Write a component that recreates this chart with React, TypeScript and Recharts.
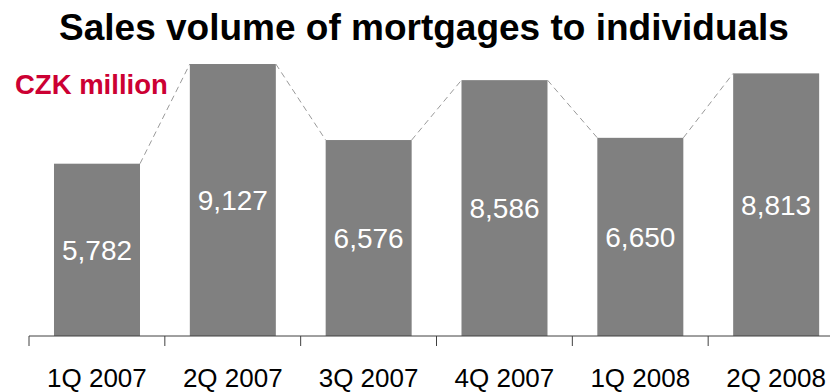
import { BarChart, Bar, XAxis, YAxis, LabelList } from 'recharts';

const quarters = ['1Q 2007', '2Q 2007', '3Q 2007', '4Q 2007', '1Q 2008', '2Q 2008'];
const volumes = [5782, 9127, 6576, 8586, 6650, 8813];

const data = quarters.map((quarter, i) => ({ quarter, volume: volumes[i] }));

const FONT = '"Liberation Sans", Arial, sans-serif';

// top-right corners of bars already drawn, so the next bar can link to it
const corners: { x: number; y: number }[] = [];

function LinkedBar(props: any) {
  const { x, y, width, height, index } = props;
  corners[index] = { x: x + width, y };
  const prev = index > 0 ? corners[index - 1] : null;
  return (
    <g>
      <rect x={x} y={y} width={width} height={height} fill="#808080" />
      {prev && (
        <line
          x1={prev.x}
          y1={prev.y}
          x2={x}
          y2={y}
          stroke="#9a9a9a"
          strokeWidth={1}
          strokeDasharray="6 4"
        />
      )}
    </g>
  );
}

function QuarterTick(props: any) {
  const { x, y, payload } = props;
  const left = x - (payload.offset ?? 68);
  return (
    <g>
      <line x1={left} y1={y} x2={left} y2={y + 10} stroke="#404040" />
      <text x={x} y={y + 51} textAnchor="middle" fontSize={26} fill="#000" fontFamily={FONT}>
        {payload.value}
      </text>
    </g>
  );
}

export default function App() {
  return (
    <div
      style={{
        position: 'fixed',
        left: 0,
        top: 0,
        width: 830,
        height: 392,
        overflow: 'hidden',
        background: '#fff',
        fontFamily: FONT,
      }}
    >
      <div
        style={{
          position: 'absolute',
          left: 0,
          top: 9,
          width: 848,
          textAlign: 'center',
          fontSize: 37,
          lineHeight: '37px',
          fontWeight: 'bold',
          color: '#000',
          whiteSpace: 'nowrap',
        }}
      >
        Sales volume of mortgages to individuals
      </div>
      <div
        style={{
          position: 'absolute',
          left: 15,
          top: 71,
          fontSize: 27.5,
          lineHeight: '27px',
          fontWeight: 'bold',
          color: '#CC0033',
          whiteSpace: 'nowrap',
        }}
      >
        CZK million
      </div>
      <div style={{ position: 'absolute', left: 0, top: 0 }}>
        <BarChart
          width={850}
          height={392}
          data={data}
          margin={{ top: 38, right: 6, left: 29, bottom: 0 }}
          barCategoryGap="18.4%"
        >
          <XAxis
            dataKey="quarter"
            height={56}
            tickLine={false}
            tickSize={0}
            tickMargin={0}
            axisLine={{ stroke: '#404040' }}
            tick={<QuarterTick />}
            interval={0}
          />
          <YAxis hide domain={[0, 10000]} />
          <Bar dataKey="volume" shape={<LinkedBar />} isAnimationActive={false}>
            <LabelList
              dataKey="volume"
              position="center"
              fill="#fff"
              fontSize={28}
              fontFamily={FONT}
              formatter={(v: any) => Number(v).toLocaleString('en-US')}
            />
          </Bar>
        </BarChart>
      </div>
    </div>
  );
}
